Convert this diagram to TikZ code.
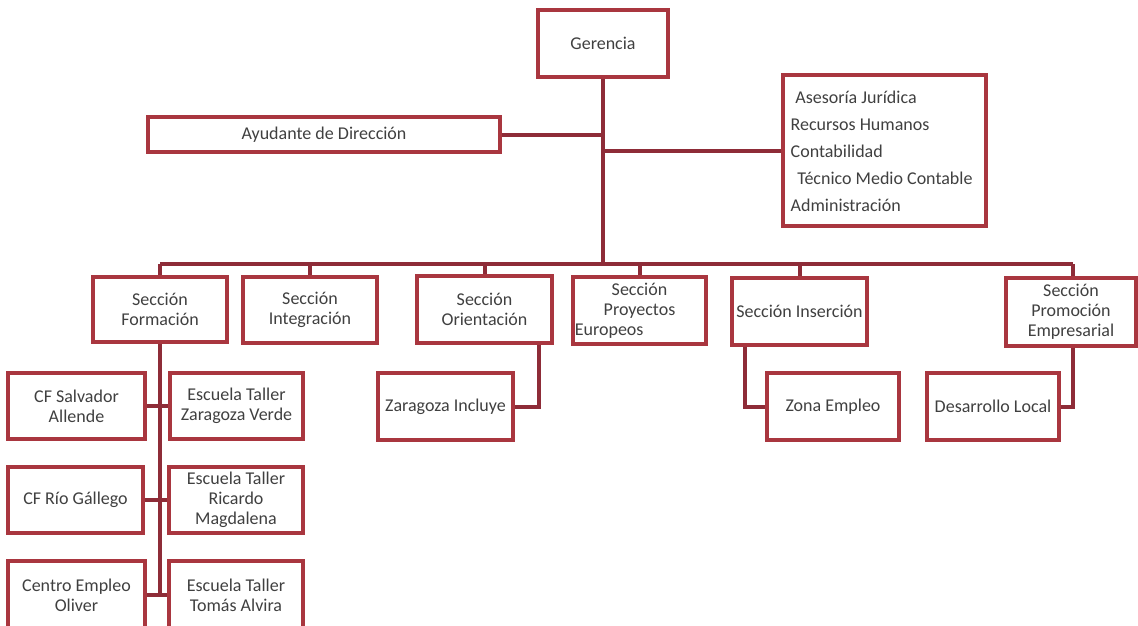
\documentclass[tikz,border=0pt]{standalone}
\usepackage{fontspec}
\setmainfont{Carlito}
\usetikzlibrary{calc}
\definecolor{bord}{HTML}{A9363F}
\definecolor{conn}{HTML}{8E2C38}
\definecolor{txt}{HTML}{404040}
\begin{document}
\begin{tikzpicture}[x=0.75pt,y=-0.75pt,
  bx/.style={draw=bord, line width=2.4pt, fill=white, text=txt,
    font=\fontsize{13.5}{15}\selectfont, align=center, inner sep=1pt},
  sz/.style 2 args={minimum width=#1*0.75pt, minimum height=#2*0.75pt},
  lbl/.style={text=txt, font=\fontsize{13.5}{20.25}\selectfont, align=left, inner sep=0pt},
  ln/.style={draw=conn, line width=3pt}]
\useasboundingbox (0,0) rectangle (1138,625);
\clip (0,0) rectangle (1138,625);
\fill[white] (0,0) rectangle (1138,625);

% top level
\node[bx, sz={130}{67}] (ger) at (603,43.5) {Gerencia};
\node[bx, sz={352}{35}] (ayu) at (324,134.5) {Ayudante de Dirección};
\node[bx, sz={203}{151}] (staff) at (884.5,150.5) {};
\node[lbl, anchor=west] (stafft) at ($(staff.west)+(9,1)$)
  {\hspace*{3.5pt}Asesoría Jurídica\\Recursos Humanos\\Contabilidad\\\hspace*{5pt}Técnico Medio Contable\\Administración};

% sections
\node[bx, sz={134}{65}] (form) at (160,309.5) {Sección\\Formación};
\node[bx, sz={134}{66}] (integ) at (310,310) {Sección\\Integración};
\node[bx, sz={135}{67}] (orient) at (484.5,309.5) {Sección\\Orientación};
\node[bx, sz={133}{67}, text width=97pt] (proy) at (639.5,310.5)
  {Sección\\Proyectos\\\makebox[\linewidth][l]{Europeos}};
\node[bx, sz={135}{67}] (inser) at (799.5,311.5) {Sección Inserción};
\node[bx, sz={130}{68}] (promo) at (1071,312) {Sección\\Promoción\\Empresarial};

% children
\node[bx, sz={135}{67}] (zi) at (445.5,406.5) {Zaragoza Incluye};
\node[bx, sz={132}{67}] (zona) at (833,406.5) {Zona Empleo};
\node[bx, sz={132}{67}] (des) at (993,406.5) {Desarrollo Local};

\node[bx, sz={137}{66}] (csa) at (76.5,406) {CF Salvador\\Allende};
\node[bx, sz={133}{66}] (etz) at (236.5,406) {Escuela Taller\\Zaragoza Verde};
\node[bx, sz={135}{66}] (crg) at (75.5,500) {CF Río Gállego};
\node[bx, sz={134}{66}] (etr) at (236,500) {Escuela Taller\\Ricardo\\Magdalena};
\node[bx, sz={137}{68}] (ceo) at (76.5,595) {Centro Empleo\\Oliver};
\node[bx, sz={134}{68}] (eta) at (236,595) {Escuela Taller\\Tomás Alvira};

% connectors
\coordinate (barL) at (160,264);
\coordinate (barR) at (1073,264);
\draw[ln] (ger.south) -- (ger.south |- barL);
\draw[ln] (ayu.east) -- (ayu.east -| ger.south);
\draw[ln] (staff.west) -- (staff.west -| ger.south);
\draw[ln] (barL) -- (barR);
\draw[ln] (barL) -- (form.north);
\draw[ln] (integ.north |- barL) -- (integ.north);
\draw[ln] (orient.north |- barL) -- (orient.north);
\draw[ln] (proy.north |- barL) -- (proy.north);
\draw[ln] (inser.north |- barL) -- (inser.north);
\draw[ln] (barR) -- (barR |- promo.north);
\draw[ln] ($(orient.south east)+(-15,0)$) |- (zi.east);
\draw[ln] ($(inser.south west)+(15,0)$) |- (zona.west);
\draw[ln] (barR |- promo.south) |- (des.east);
\draw[ln] (form.south) -- (form.south |- ceo.east);
\draw[ln] (csa.east) -- (etz.west);
\draw[ln] (crg.east) -- (etr.west);
\draw[ln] (ceo.east) -- (eta.west);
\end{tikzpicture}
\end{document}
